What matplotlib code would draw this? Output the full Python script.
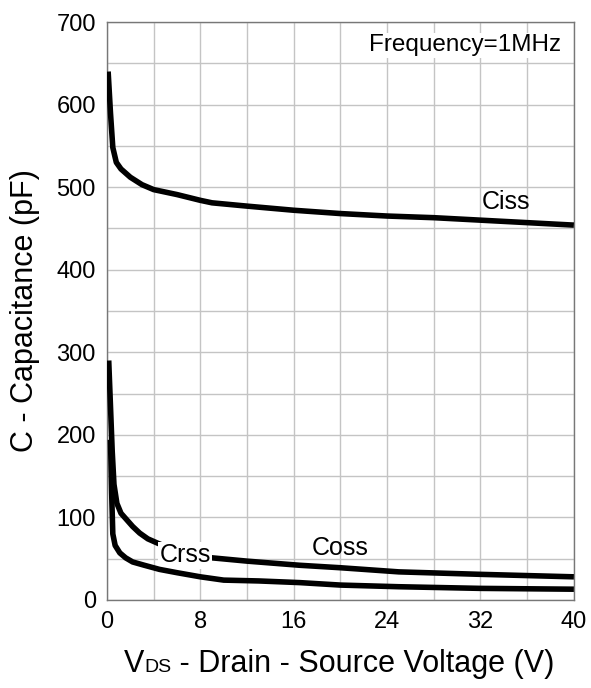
import numpy as np
import matplotlib.pyplot as plt
from matplotlib.offsetbox import TextArea, HPacker, AnnotationBbox

plt.rcParams['font.family'] = ['Liberation Sans', 'DejaVu Sans']

# Capacitance vs. drain-source voltage (f = 1 MHz)
vds_ciss = [0.1, 0.3, 0.5, 0.8, 1.2, 2, 3, 4, 6, 8, 9, 12, 16, 20, 24, 28, 32, 36, 40]
ciss = [640, 590, 548, 530, 522, 512, 503, 497, 491, 484, 481, 477, 472, 468, 465, 463, 460, 457, 454]

vds_coss = [0.15, 0.3, 0.45, 0.6, 0.85, 1.2, 1.7, 2.2, 2.8, 3.5, 4.3, 6, 9, 12, 16.5, 20, 25, 32, 40]
coss = [290, 235, 180, 140, 117, 105, 97, 89, 81, 74, 69, 59, 51, 47, 42, 39, 34, 31, 28]

vds_crss = [0.3, 0.4, 0.5, 0.7, 1.1, 1.6, 2.2, 3.2, 4.5, 6, 8, 10, 13, 16.5, 20, 25, 32, 40]
crss = [194, 130, 80, 66, 57, 51, 46, 42, 37, 33, 28, 24, 23, 21, 18, 16, 14, 13]

x_ticks = [0, 8, 16, 24, 32, 40]
y_ticks = [0, 100, 200, 300, 400, 500, 600, 700]

fig = plt.figure(figsize=(5.91, 6.88), dpi=100)
ax = fig.add_axes([0.181, 0.128, 0.79, 0.84])

# Crss sits above the label boxes, the others below
for v, c, z in [(vds_ciss, ciss, 3), (vds_coss, coss, 3), (vds_crss, crss, 5)]:
    ax.plot(v, c, color='black', lw=4.0, solid_capstyle='butt',
            solid_joinstyle='round', zorder=z)

ax.set_xlim(0, 40)
ax.set_ylim(0, 700)
ax.set_xticks(x_ticks)
ax.set_yticks(y_ticks)
ax.set_xticks(np.arange(0, 41, 4), minor=True)
ax.set_yticks(np.arange(0, 701, 50), minor=True)
ax.grid(True, which='both', color='#c4c4c4', lw=1.0, zorder=0)
ax.tick_params(which='both', length=0, labelsize=17, pad=8)
for s in ax.spines.values():
    s.set_color('#777777')
    s.set_linewidth(1.0)

ax.set_ylabel('C - Capacitance (pF)', fontsize=22, labelpad=12)

# curve labels
ax.text(34.2, 482, 'Ciss', fontsize=18, ha='center', va='center', zorder=4)
ax.text(20, 63, 'Coss', fontsize=18, ha='center', va='center', zorder=4)
ax.text(6.7, 54, 'Crss', fontsize=18, ha='center', va='center', zorder=4,
        bbox=dict(facecolor='white', edgecolor='none', pad=1))
ax.text(30.7, 672, 'Frequency=1MHz', fontsize=17.5, ha='center', va='center', zorder=4,
        bbox=dict(facecolor='white', edgecolor='none', pad=1))

# x label with small "DS" on the baseline
parts = [TextArea('V', textprops=dict(fontsize=22)),
         TextArea('DS', textprops=dict(fontsize=14)),
         TextArea(' - Drain - Source Voltage (V)', textprops=dict(fontsize=22))]
xlabel = HPacker(children=parts, align='baseline', pad=0, sep=0)
ab = AnnotationBbox(xlabel, (339 / 591, 1 - 664 / 688), xycoords='figure fraction',
                    frameon=False, box_alignment=(0.5, 0.5))
fig.add_artist(ab)

fig.savefig('out.png', dpi=100)
